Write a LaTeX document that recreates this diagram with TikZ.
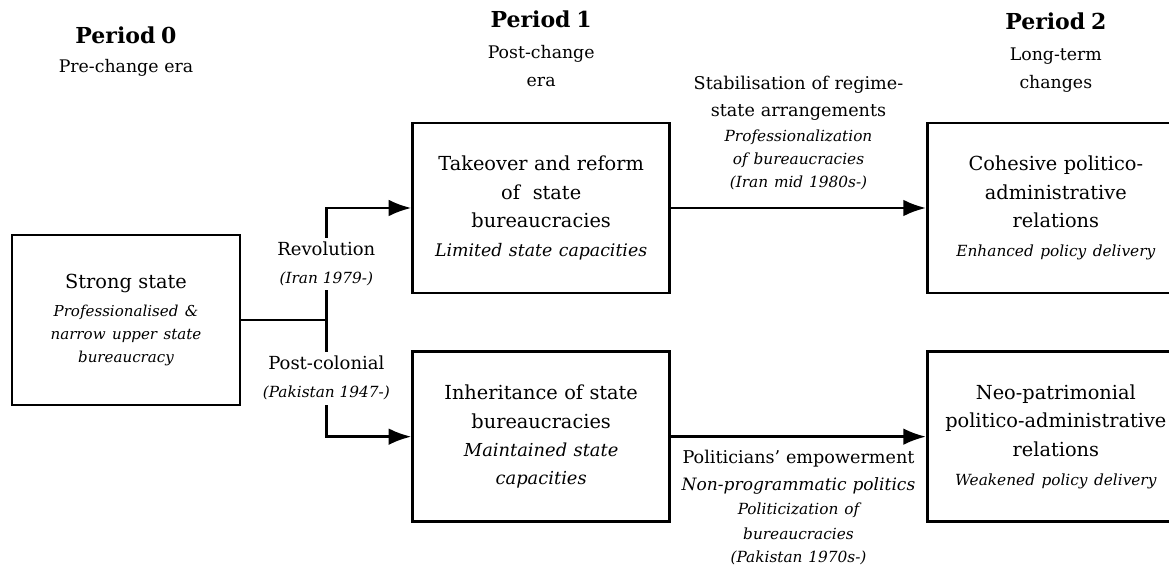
\documentclass[tikz,border=0pt]{standalone}
\usepackage{fontspec}
\setmainfont{DejaVu Serif}
\usetikzlibrary{arrows.meta, positioning}
\tikzstyle{block} = [rectangle, line width=2pt, minimum width=192.75pt, minimum height=127.5pt, text width=185pt, align=center, draw=black, font=\fontsize{14.5}{21.5}\selectfont]
\tikzstyle{arrow} = [line width=2pt, -{Latex[length=17pt, width=12.5pt]}]
\tikzstyle{line} = [line width=2pt]
\tikzstyle{head} = [align=center, text width=120pt, font=\fontsize{13}{21}\selectfont]
\tikzstyle{tag} = [align=center, fill=white, font=\fontsize{13.5}{21}\selectfont]
\tikzstyle{note} = [align=center, text width=250pt, font=\fontsize{13.2}{20}\selectfont]

\begin{document}
\begin{tikzpicture}
		\path [use as bounding box, clip] (-94.5pt,-184.5pt) rectangle (782.25pt,240pt);
		\node (Strong) [block, minimum width=171pt, text width=160pt] {Strong state\\[3.75pt]\fontsize{11.3}{17.25}\selectfont\itshape Professionalised \&\\narrow upper state\\bureaucracy\endgraf};
		\coordinate [right=63.75pt of Strong] (Fork);
		\node (Takeover) [block, right=63.75pt of Fork, yshift=84pt] {Takeover and reform\\of~ state\\bureaucracies\\{\fontsize{13}{21.5}\selectfont\itshape Limited state capacities}};
		\node (Inheritance) [block, below=42pt of Takeover] {Inheritance of state\\bureaucracies\\\fontsize{13.4}{21}\selectfont\itshape Maintained state\\capacities\endgraf};
		\node (Cohesive) [block, right=191.25pt of Takeover] {Cohesive politico-\\administrative\\relations\\{\fontsize{11.5}{21.5}\selectfont\itshape Enhanced policy delivery}};
		\node (Neo) [block, right=191.25pt of Inheritance] {Neo-patrimonial\\politico-administrative\\relations\\{\fontsize{11.5}{21.5}\selectfont\itshape Weakened policy delivery}};
		% period headers
		\node (Period1) [head, above=54.75pt of Takeover, anchor=center] {{\fontsize{16.5}{21}\selectfont\bfseries Period 1}\\[2pt]Post-change\\era};
		\node (Period2) [head, above=54.75pt of Cohesive, anchor=center, yshift=-3pt] {{\fontsize{16.5}{21}\selectfont\bfseries Period 2}\\[2pt]Long-term\\changes};
		\node (Period0) [head, text width=160pt, yshift=-2pt] at (Strong |- Period1) {{\fontsize{16.5}{21}\selectfont\bfseries Period 0}\\[1pt]Pre-change era};
		\draw [line] (Strong) -- (Fork);
		\draw [arrow] (Fork) |- node[tag, pos=0.25]{Revolution\\{\fontsize{11.5}{21}\selectfont\itshape (Iran 1979-)}} (Takeover);
		\draw [arrow] (Fork) |- node[tag, pos=0.25]{Post-colonial\\{\fontsize{11.5}{21}\selectfont\itshape (Pakistan 1947-)}} (Inheritance);
		\draw [arrow] (Takeover) -- node[note, above=9.5pt]{Stabilisation of regime-\\state arrangements\\[2.25pt]\fontsize{11.5}{17}\selectfont\itshape Professionalization\\of bureaucracies\\(Iran mid 1980s-)\endgraf} (Cohesive);
		\draw [arrow] (Inheritance) -- node[note, below=5.5pt]{Politicians' empowerment\\[0.5pt]{\fontsize{12.8}{20}\selectfont\itshape Non-programmatic politics}\\[0.5pt]\fontsize{11.5}{17.5}\selectfont\itshape Politicization of\\[1.25pt]bureaucracies\\(Pakistan 1970s-)\endgraf} (Neo);
	\end{tikzpicture}
\end{document}
